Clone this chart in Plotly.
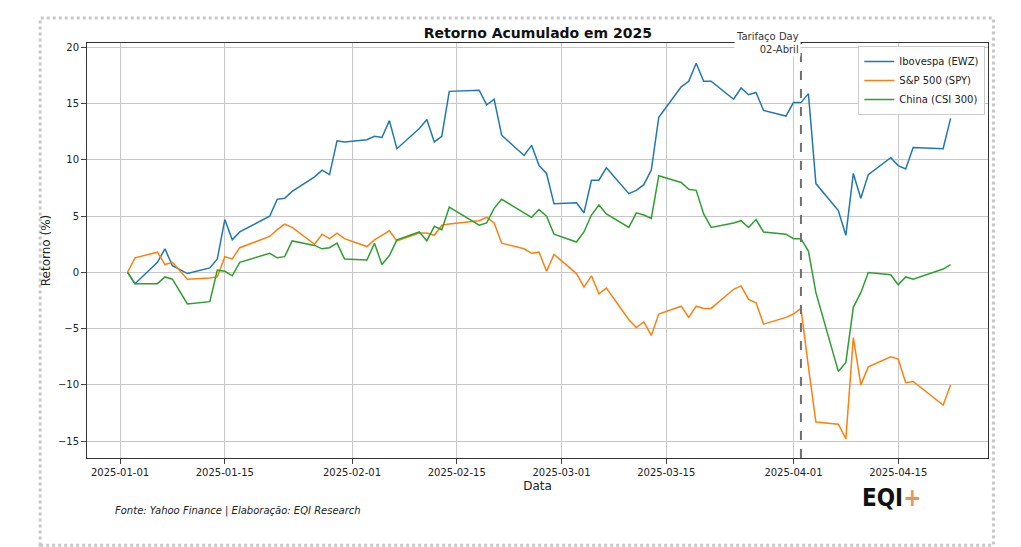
import pandas as pd
import plotly.graph_objects as pgo

dates = (
    ["2025-01-%02d" % d for d in [2, 3, 6, 7, 8, 10, 13, 14, 15, 16, 17, 21, 22, 23, 24, 27, 28, 29, 30, 31]]
    + ["2025-02-%02d" % d for d in [3, 4, 5, 6, 7, 10, 11, 12, 13, 14, 18, 19, 20, 21, 24, 25, 26, 27, 28]]
    + ["2025-03-%02d" % d for d in [3, 4, 5, 6, 7, 10, 11, 12, 13, 14, 17, 18, 19, 20, 21, 24, 25, 26, 27, 28, 31]]
    + ["2025-04-%02d" % d for d in [1, 2, 3, 4, 7, 8, 9, 10, 11, 14, 15, 16, 17, 21, 22]]
)

ibov = [0, -1.0, 0.9, 2.1, 0.6, -0.1, 0.4, 1.2, 4.7, 2.9, 3.6, 5.0, 6.5, 6.6, 7.2, 8.5, 9.1, 8.7, 11.7, 11.6,
        11.8, 12.1, 12.0, 13.5, 11.0, 12.8, 13.6, 11.6, 12.1, 16.1, 16.2, 14.9, 15.4, 12.2, 10.4, 11.3, 9.5, 8.8, 6.1,
        6.2, 5.3, 8.2, 8.2, 9.3, 7.0, 7.3, 7.8, 9.1, 13.8, 16.5, 17.0, 18.6, 17.0, 17.0, 15.4, 16.4, 15.8, 16.0, 14.4, 13.9,
        15.1, 15.1, 15.9, 7.9, 5.5, 3.3, 8.8, 6.6, 8.7, 10.2, 9.5, 9.2, 11.1, 11.0, 13.7]
spy = [0, 1.3, 1.8, 0.7, 0.9, -0.6, -0.5, -0.4, 1.4, 1.2, 2.2, 3.2, 3.8, 4.3, 4.0, 2.5, 3.4, 3.0, 3.5, 3.0,
       2.3, 2.9, 3.3, 3.7, 2.8, 3.5, 3.5, 3.3, 4.2, 4.3, 4.6, 4.9, 4.4, 2.6, 2.1, 1.7, 1.8, 0.1, 1.6,
       -0.1, -1.3, -0.3, -1.9, -1.4, -4.2, -4.9, -4.4, -5.6, -3.7, -3.0, -4.0, -3.0, -3.2, -3.2, -1.5, -1.2, -2.4, -2.7, -4.6, -4.0,
       -3.7, -3.2, -8.4, -13.3, -13.5, -14.8, -5.8, -10.0, -8.4, -7.5, -7.7, -9.8, -9.7, -11.8, -10.0]
csi = [0, -1.0, -1.0, -0.4, -0.6, -2.8, -2.6, 0.2, 0.1, -0.3, 0.9, 1.7, 1.3, 1.4, 2.8, 2.4, 2.1, 2.2, 2.6, 1.2,
       1.1, 2.6, 0.7, 1.5, 2.9, 3.6, 2.8, 4.1, 3.8, 5.8, 4.2, 4.4, 5.7, 6.5, 5.3, 4.9, 5.6, 5.0, 3.4,
       2.7, 3.6, 5.1, 6.0, 5.2, 4.0, 5.3, 5.1, 4.8, 8.6, 8.0, 7.4, 7.3, 5.2, 4.0, 4.4, 4.6, 4.0, 4.7, 3.6, 3.4,
       3.0, 3.0, 1.9, -1.8, -8.8, -8.0, -3.1, -1.8, 0.0, -0.2, -1.1, -0.4, -0.6, 0.3, 0.7]

series = [("Ibovespa (EWZ)", ibov, "#1f77b4"), ("S&P 500 (SPY)", spy, "#ff7f0e"), ("China (CSI 300)", csi, "#2ca02c")]
tick_dates = ["2025-01-01", "2025-01-15", "2025-02-01", "2025-02-15", "2025-03-01", "2025-03-15", "2025-04-01", "2025-04-15"]
tariff_day = "2025-04-02"

fig = pgo.Figure()
for name, vals, color in series:
    fig.add_trace(pgo.Scatter(x=pd.to_datetime(dates), y=vals, name=name, mode="lines",
                              line=dict(color=color, width=1.5)))

fig.add_vline(x=pd.Timestamp(tariff_day).timestamp() * 1000,
              line=dict(color="#707070", width=2, dash="dash"))
fig.add_annotation(x=tariff_day, y=1, yref="paper", yanchor="middle", xanchor="right", align="right",
                   text="Tarifaço Day<br>02-Abril", showarrow=False, bgcolor="white",
                   font=dict(size=10, color="#333"))

fig.add_annotation(x=0.029, y=-0.147, xref="paper", yref="paper", showarrow=False, xanchor="left",
                   text="<i>Fonte: Yahoo Finance | Elaboração: EQI Research</i>", font=dict(size=10, color="#222"))
fig.add_annotation(x=0.858, y=-0.135, xref="paper", yref="paper", showarrow=False, xanchor="left",
                   text="<b>EQI</b><span style='color:#e8925a'><b>+</b></span>",
                   font=dict(family="DejaVu Sans Condensed", size=24, color="#111"))

# dotted frame around the figure
fig.add_shape(type="rect", xref="paper", yref="paper", x0=-0.052, x1=1.006, y0=-0.21, y1=1.06,
              line=dict(color="#c8c8c8", width=3, dash="dot"))

fig.update_layout(
    width=1021, height=547,
    font=dict(family="DejaVu Sans", size=10, color="#222"),
    plot_bgcolor="white", paper_bgcolor="white",
    margin=dict(l=79, r=41, t=35, b=97),
    title=dict(text="<b>Retorno Acumulado em 2025</b>", x=0.519, xanchor="center", y=0.954, yanchor="middle",
               font=dict(size=14, color="#111")),
    legend=dict(x=0.997, y=0.993, xanchor="right", yanchor="top", bordercolor="#ccc", borderwidth=1,
                bgcolor="rgba(255,255,255,0.9)", font=dict(size=10)),
    xaxis=dict(title=dict(text="Data", standoff=4), tickvals=tick_dates, tickformat="%Y-%m-%d",
               range=["2024-12-27 14:00", "2025-04-27"], showgrid=True, gridcolor="#c8c8c8",
               showline=True, linecolor="#333", mirror=True, ticks="outside", zeroline=False),
    yaxis=dict(title=dict(text="Retorno (%)", standoff=4), range=[-16.5, 20.4], dtick=5, showgrid=True,
               gridcolor="#c8c8c8", showline=True, linecolor="#333", mirror=True, ticks="outside", zeroline=False),
)

fig.write_html("out.html")
